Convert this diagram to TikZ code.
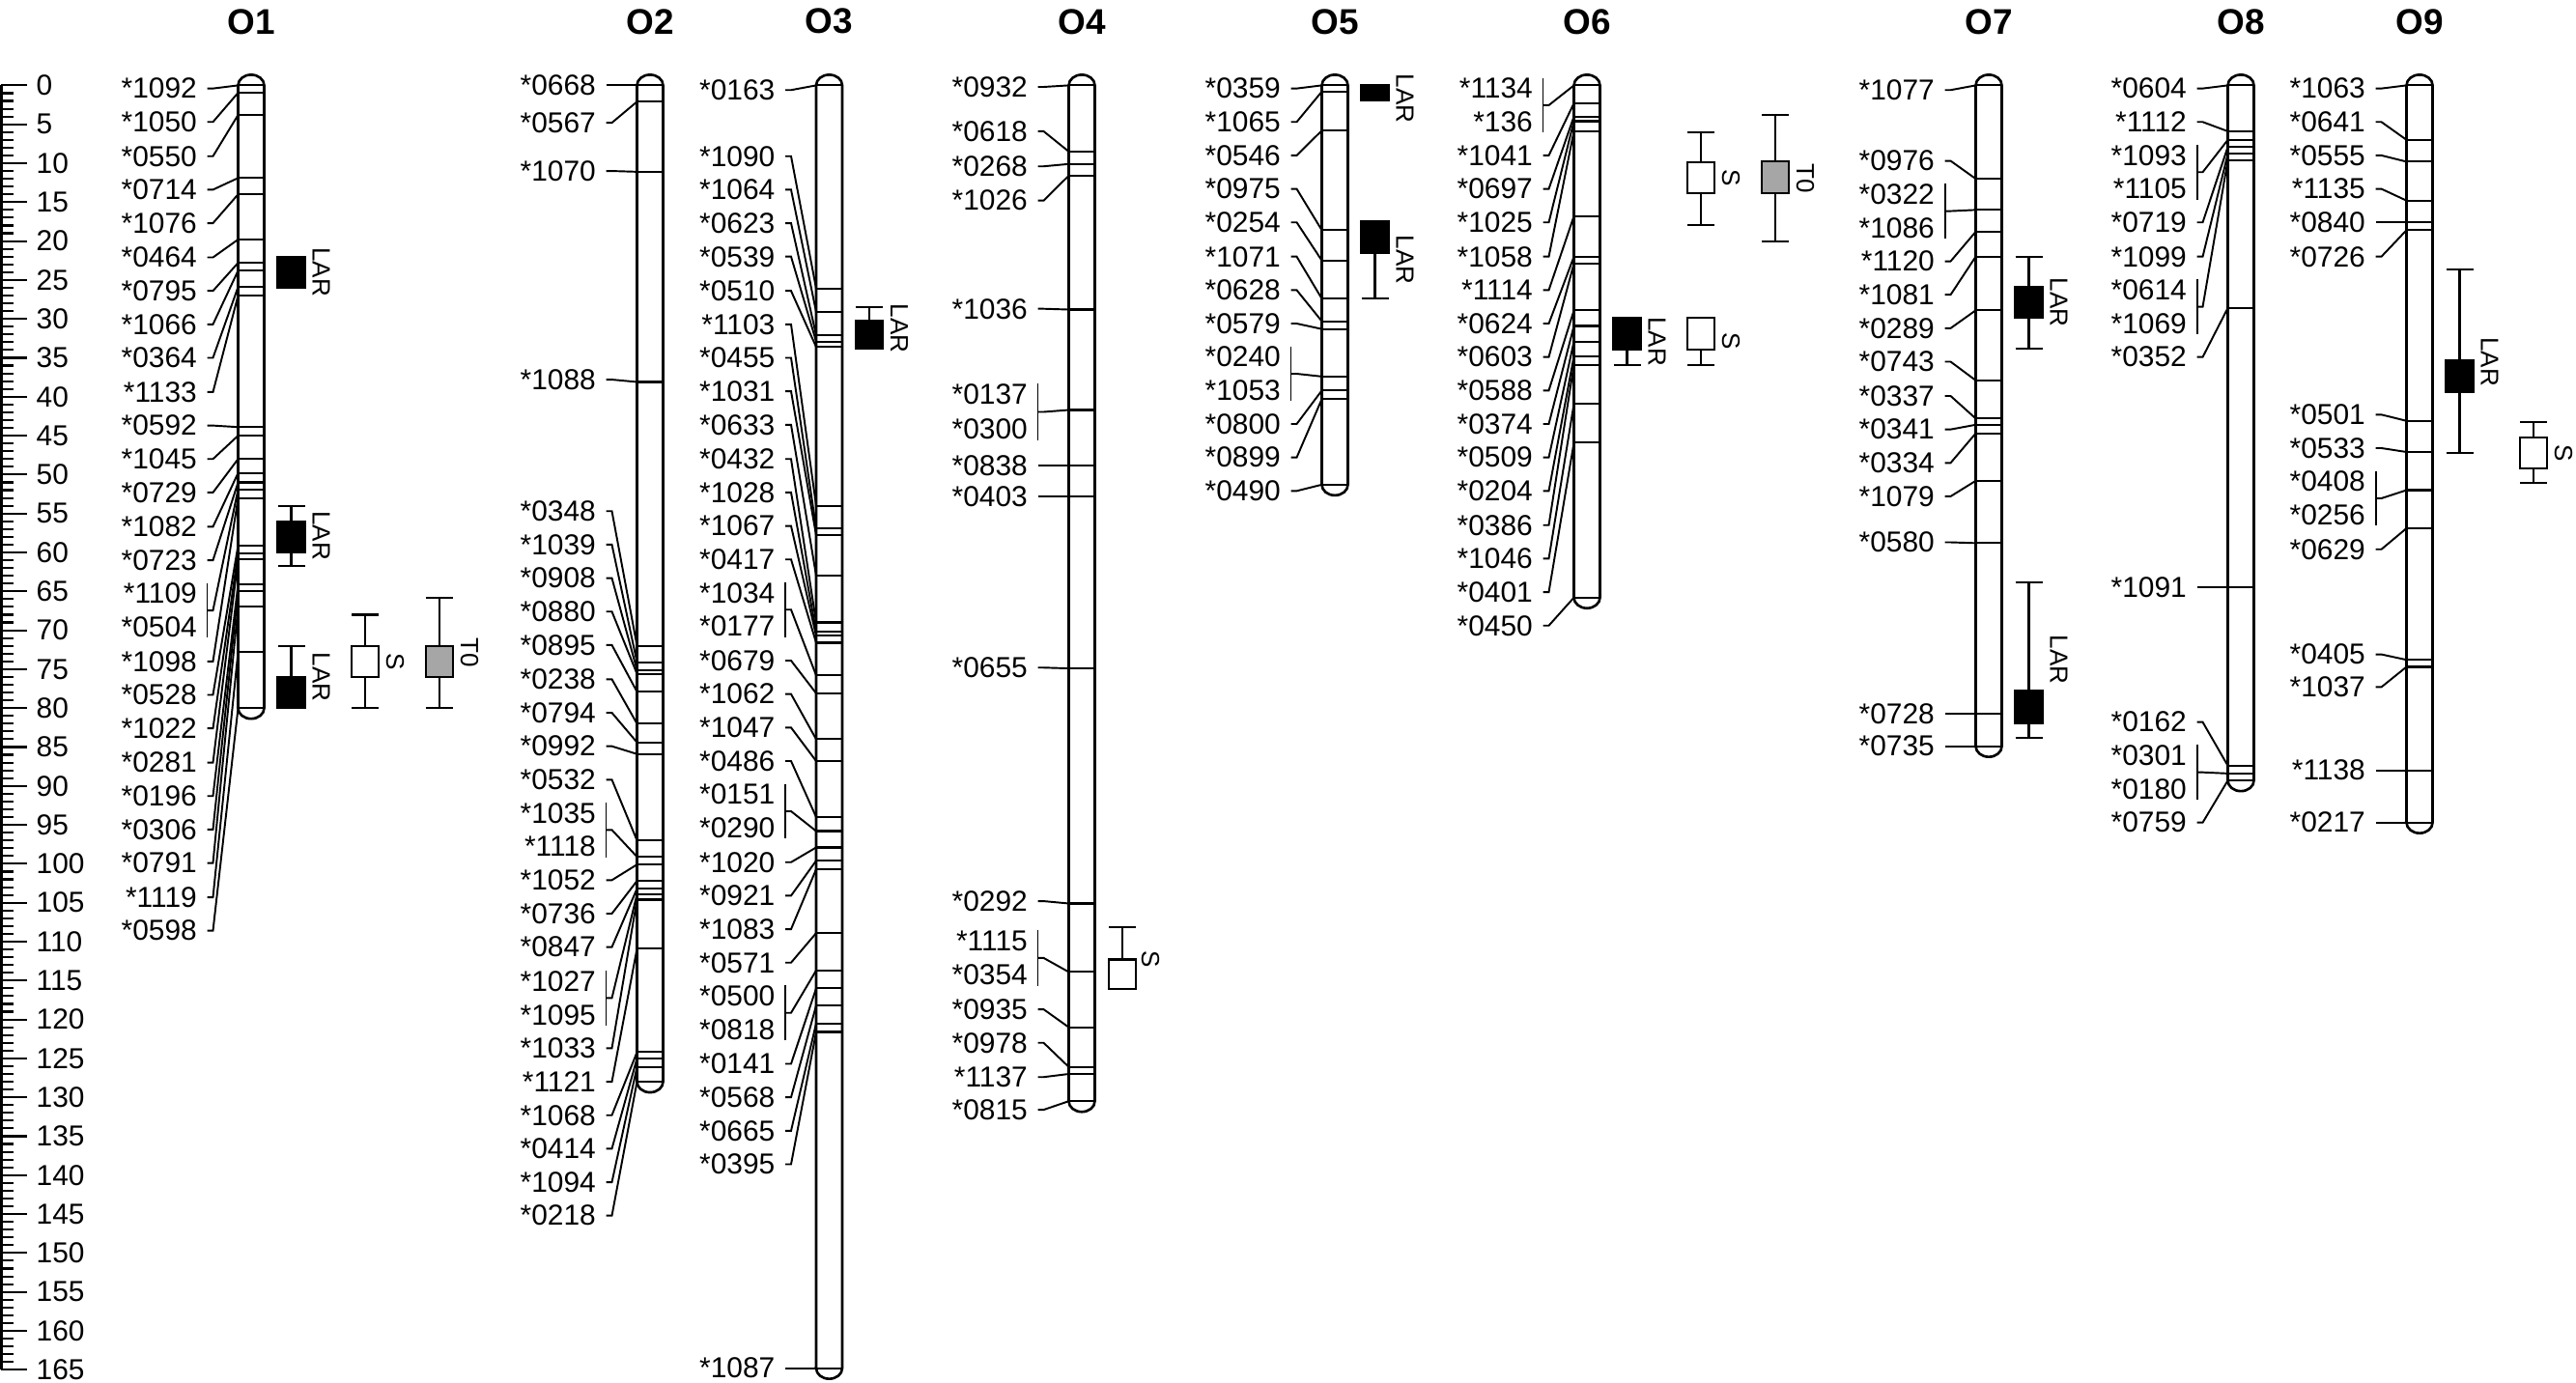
\documentclass[tikz,border=0pt]{standalone}
\usepackage{fontspec}
\setmainfont{Liberation Sans}
\usetikzlibrary{calc}

\begin{document}
\begin{tikzpicture}[x=0.01cm, y=-0.08055cm,
    chrom/.style={line width=0.75pt},
    locus/.style={line width=0.6pt},
    leader/.style={line width=0.55pt},
    whisk/.style={line width=0.6pt},
    lab/.style={font=\fontsize{8.5}{10}\selectfont, inner sep=0pt, anchor=east},
    rul/.style={font=\fontsize{8.5}{10}\selectfont, inner sep=0pt, anchor=west},
    title/.style={font=\fontsize{10.5}{12}\selectfont\bfseries},
    qtl/.style={font=\fontsize{7.4}{9}\selectfont, inner sep=0pt, rotate=-90},
    lar/.style={draw, line width=0.6pt, fill=black},
    sbox/.style={draw, line width=0.6pt, fill=white},
    tbox/.style={draw, line width=0.6pt, fill=black!35}]
  \useasboundingbox (0,-10.97) rectangle (2667,166.68);

  % ruler
  \draw[line width=0.6pt] (1.5,0) -- (1.5,165);
  \foreach \t in {0,...,165}
    \draw[line width=0.6pt] (1.5,\t) -- (14,\t);
  \foreach \t in {0,5,...,165}{
    \draw[line width=0.6pt] (1.5,\t) -- (28,\t);
    \node[rul] (r\t) at (37,\t) {\t};
  }

  % O1
  \begin{scope}[shift={(260,0)}]
    \node[title] (O1) at (0,-8.2) {O1};
    \draw[chrom] (-13.5,80) -- (-13.5,0) arc[start angle=180,end angle=0,x radius=0.135cm,y radius=0.11cm] -- (13.5,80) arc[start angle=0,end angle=-180,x radius=0.135cm,y radius=0.11cm] -- cycle;
    \foreach \n/\ly/\my in {1092/0.4/0, 1050/4.7/0.95, 0550/9.1/3.8, 0714/13.4/11.9, 1076/17.7/14.0,
        0464/22.1/19.8, 0795/26.4/22.8, 1066/30.7/23.8, 0364/35.0/25.9, 1133/39.4/27.0,
        0592/43.7/43.9, 1045/48.0/45.0, 0729/52.3/48.0, 1082/56.7/49.8, 0723/61.0/51.0,
        1098/74.0/53.0, 0528/78.3/59.1, 1022/82.6/60.1, 0281/87.0/60.9, 0196/91.3/64.1,
        0306/95.6/65.0, 0791/99.9/67.0, 1119/104.3/72.8, 0598/108.6/80}{
      \node[lab] (O1-\n) at (-55.5,\ly) {*\n};
      \coordinate (O1l-\n) at (-13.5,\my);
      \coordinate (O1r-\n) at (13.5,\my);
      \draw[locus] (O1l-\n) -- (O1r-\n);
      \draw[leader] (O1-\n.east) ++(10,0) -- ++(6,0) -- (O1l-\n);
    }
    \foreach \a/\b/\la/\lb/\my in {1109/0504/65.3/69.6/51.9}{
      \node[lab] (O1-\a) at (-55.5,\la) {*\a};
      \node[lab] (O1-\b) at (-55.5,\lb) {*\b};
      \coordinate (O1l-\a) at (-13.5,\my);
      \coordinate (O1r-\a) at (13.5,\my);
      \draw[locus] (O1l-\a) -- (O1r-\a);
      \draw[leader] ([xshift=0.1cm,yshift=0.11cm]O1-\a.east) -- ([xshift=0.1cm,yshift=-0.11cm]O1-\b.east);
      \draw[leader] ($(O1-\a.east)!0.5!(O1-\b.east)$) ++(10,0) -- ++(6,0) -- (O1l-\a);
    }
    % LAR
    \draw[lar] (27.5,22) rectangle (55.5,26);
    \node[qtl] (O1-q1) at (72.5,24) {LAR};
    \draw[whisk] (27.5,54) -- (55.5,54) (41.5,54) -- (41.5,61.7) (27.5,61.7) -- (55.5,61.7);
    \draw[lar] (27.5,56) rectangle (55.5,60);
    \node[qtl] (O1-q2) at (72.5,57.85) {LAR};
    \draw[whisk] (27.5,72) -- (55.5,72) (41.5,72) -- (41.5,76);
    \draw[lar] (27.5,76) rectangle (55.5,80);
    \node[qtl] (O1-q3) at (72.5,76) {LAR};
    % S
    \draw[whisk] (104,68) -- (132,68) (118,68) -- (118,80) (104,80) -- (132,80);
    \draw[sbox] (104,72) rectangle (132,76);
    \node[qtl] (O1-q4) at (149,74) {S};
    % T0
    \draw[whisk] (181,65.8) -- (209,65.8) (195,65.8) -- (195,80) (181,80) -- (209,80);
    \draw[tbox] (181,72) rectangle (209,76);
    \node[qtl] (O1-q5) at (226,72.9) {T0};
  \end{scope}

  % O2
  \begin{scope}[shift={(673,0)}]
    \node[title] (O2) at (0,-8.2) {O2};
    \draw[chrom] (-13.5,128) -- (-13.5,0) arc[start angle=180,end angle=0,x radius=0.135cm,y radius=0.11cm] -- (13.5,128) arc[start angle=0,end angle=-180,x radius=0.135cm,y radius=0.11cm] -- cycle;
    \foreach \n/\ly/\my in {0668/0/0, 0567/4.8/2.1, 1070/11.0/11.1, 1088/37.8/38.1,
        0348/54.7/72.0, 1039/59.0/74.1, 0908/63.3/75.1, 0880/67.6/75.6, 0895/71.9/77.9,
        0238/76.3/82.0, 0794/80.6/84.4, 0992/84.9/85.9, 0532/89.2/97.0, 1052/102.1/100.1,
        0736/106.4/102.2, 0847/110.7/103.2, 1033/123.7/104.6, 1121/128.0/110.9,
        1068/132.3/124.2, 0414/136.6/125.0, 1094/140.9/126.1, 0218/145.2/128}{
      \node[lab] (O2-\n) at (-55.5,\ly) {*\n};
      \coordinate (O2l-\n) at (-13.5,\my);
      \coordinate (O2r-\n) at (13.5,\my);
      \draw[locus] (O2l-\n) -- (O2r-\n);
      \draw[leader] (O2-\n.east) ++(10,0) -- ++(6,0) -- (O2l-\n);
    }
    \foreach \a/\b/\la/\lb/\my in {1035/1118/93.5/97.8/99.1, 1027/1095/115.1/119.4/103.9}{
      \node[lab] (O2-\a) at (-55.5,\la) {*\a};
      \node[lab] (O2-\b) at (-55.5,\lb) {*\b};
      \coordinate (O2l-\a) at (-13.5,\my);
      \coordinate (O2r-\a) at (13.5,\my);
      \draw[locus] (O2l-\a) -- (O2r-\a);
      \draw[leader] ([xshift=0.1cm,yshift=0.11cm]O2-\a.east) -- ([xshift=0.1cm,yshift=-0.11cm]O2-\b.east);
      \draw[leader] ($(O2-\a.east)!0.5!(O2-\b.east)$) ++(10,0) -- ++(6,0) -- (O2l-\a);
    }
  \end{scope}

  % O3
  \begin{scope}[shift={(858.5,0)}]
    \node[title] (O3) at (0,-8.2) {O3};
    \draw[chrom] (-13.5,164.8) -- (-13.5,0) arc[start angle=180,end angle=0,x radius=0.135cm,y radius=0.11cm] -- (13.5,164.8) arc[start angle=0,end angle=-180,x radius=0.135cm,y radius=0.11cm] -- cycle;
    \foreach \n/\ly/\my in {0163/0.6/0, 1090/9.1/26.1, 1064/13.4/29.1, 0623/17.7/32.1, 0539/22.0/32.9,
        0510/26.4/33.6, 1103/30.7/54.0, 0455/35.0/56.9, 1031/39.3/57.8, 0633/43.6/63.0,
        0432/48.0/69.0, 1028/52.3/70.2, 1067/56.6/70.7, 0417/60.9/71.6, 0679/73.9/78.1,
        1062/78.2/84.0, 1047/82.5/86.8, 0486/86.8/94.0, 1020/99.8/97.9, 0921/104.1/99.6,
        1083/108.4/100.7, 0571/112.7/108.9, 0141/125.7/116.0, 0568/130.0/118.2,
        0665/134.3/120.5, 0395/138.6/121.6, 1087/164.8/164.8}{
      \node[lab] (O3-\n) at (-55.5,\ly) {*\n};
      \coordinate (O3l-\n) at (-13.5,\my);
      \coordinate (O3r-\n) at (13.5,\my);
      \draw[locus] (O3l-\n) -- (O3r-\n);
      \draw[leader] (O3-\n.east) ++(10,0) -- ++(6,0) -- (O3l-\n);
    }
    \foreach \a/\b/\la/\lb/\my in {1034/0177/65.2/69.5/75.8, 0151/0290/91.1/95.4/95.8, 0500/0818/117.0/121.3/113.7}{
      \node[lab] (O3-\a) at (-55.5,\la) {*\a};
      \node[lab] (O3-\b) at (-55.5,\lb) {*\b};
      \coordinate (O3l-\a) at (-13.5,\my);
      \coordinate (O3r-\a) at (13.5,\my);
      \draw[locus] (O3l-\a) -- (O3r-\a);
      \draw[leader] ([xshift=0.1cm,yshift=0.11cm]O3-\a.east) -- ([xshift=0.1cm,yshift=-0.11cm]O3-\b.east);
      \draw[leader] ($(O3-\a.east)!0.5!(O3-\b.east)$) ++(10,0) -- ++(6,0) -- (O3l-\a);
    }
    % LAR
    \draw[whisk] (27.5,28.5) -- (55.5,28.5) (41.5,28.5) -- (41.5,30.2);
    \draw[lar] (27.5,30.2) rectangle (55.5,33.8);
    \node[qtl] (O3-q1) at (72.5,31.2) {LAR};
  \end{scope}

  % O4
  \begin{scope}[shift={(1120,0)}]
    \node[title] (O4) at (0,-8.2) {O4};
    \draw[chrom] (-13.5,130.5) -- (-13.5,0) arc[start angle=180,end angle=0,x radius=0.135cm,y radius=0.11cm] -- (13.5,130.5) arc[start angle=0,end angle=-180,x radius=0.135cm,y radius=0.11cm] -- cycle;
    \foreach \n/\ly/\my in {0932/0.2/0, 0618/5.9/8.5, 0268/10.4/10.1, 1026/14.8/11.6, 1036/28.7/28.8,
        0838/48.8/48.8, 0403/52.8/52.8, 0655/74.8/74.9, 0292/104.8/105.1, 0935/118.7/121.0,
        0978/123.0/126.1, 1137/127.4/127.0, 0815/131.6/130.5}{
      \node[lab] (O4-\n) at (-55.5,\ly) {*\n};
      \coordinate (O4l-\n) at (-13.5,\my);
      \coordinate (O4r-\n) at (13.5,\my);
      \draw[locus] (O4l-\n) -- (O4r-\n);
      \draw[leader] (O4-\n.east) ++(10,0) -- ++(6,0) -- (O4l-\n);
    }
    \foreach \a/\b/\la/\lb/\my in {0137/0300/39.7/44.2/41.7, 1115/0354/109.9/114.3/113.9}{
      \node[lab] (O4-\a) at (-55.5,\la) {*\a};
      \node[lab] (O4-\b) at (-55.5,\lb) {*\b};
      \coordinate (O4l-\a) at (-13.5,\my);
      \coordinate (O4r-\a) at (13.5,\my);
      \draw[locus] (O4l-\a) -- (O4r-\a);
      \draw[leader] ([xshift=0.1cm,yshift=0.11cm]O4-\a.east) -- ([xshift=0.1cm,yshift=-0.11cm]O4-\b.east);
      \draw[leader] ($(O4-\a.east)!0.5!(O4-\b.east)$) ++(10,0) -- ++(6,0) -- (O4l-\a);
    }
    % S
    \draw[whisk] (28,108.1) -- (56,108.1) (42,108.1) -- (42,112.3);
    \draw[sbox] (28,112.3) rectangle (56,116.1);
    \node[qtl] (O4-q1) at (71,112.2) {S};
  \end{scope}

  % O5
  \begin{scope}[shift={(1382,0)}]
    \node[title] (O5) at (0,-8.2) {O5};
    \draw[chrom] (-13.5,51.3) -- (-13.5,0) arc[start angle=180,end angle=0,x radius=0.135cm,y radius=0.11cm] -- (13.5,51.3) arc[start angle=0,end angle=-180,x radius=0.135cm,y radius=0.11cm] -- cycle;
    \foreach \n/\ly/\my in {0359/0.4/0, 1065/4.7/0.8, 0546/9.0/5.8, 0975/13.3/18.6, 0254/17.6/22.5,
        1071/22.0/27.4, 0628/26.3/30.3, 0579/30.6/31.3, 0800/43.5/39.2, 0899/47.8/40.3,
        0490/52.1/51.3}{
      \node[lab] (O5-\n) at (-55.5,\ly) {*\n};
      \coordinate (O5l-\n) at (-13.5,\my);
      \coordinate (O5r-\n) at (13.5,\my);
      \draw[locus] (O5l-\n) -- (O5r-\n);
      \draw[leader] (O5-\n.east) ++(10,0) -- ++(6,0) -- (O5l-\n);
    }
    \foreach \a/\b/\la/\lb/\my in {0240/1053/34.9/39.2/37.4}{
      \node[lab] (O5-\a) at (-55.5,\la) {*\a};
      \node[lab] (O5-\b) at (-55.5,\lb) {*\b};
      \coordinate (O5l-\a) at (-13.5,\my);
      \coordinate (O5r-\a) at (13.5,\my);
      \draw[locus] (O5l-\a) -- (O5r-\a);
      \draw[leader] ([xshift=0.1cm,yshift=0.11cm]O5-\a.east) -- ([xshift=0.1cm,yshift=-0.11cm]O5-\b.east);
      \draw[leader] ($(O5-\a.east)!0.5!(O5-\b.east)$) ++(10,0) -- ++(6,0) -- (O5l-\a);
    }
    % LAR
    \draw[lar] (27.5,0) rectangle (55.5,1.9);
    \node[qtl] (O5-q1) at (72.5,1.7) {LAR};
    \draw[whisk] (41.5,21.5) -- (41.5,27.4) (27.5,27.4) -- (55.5,27.4);
    \draw[lar] (27.5,17.5) rectangle (55.5,21.5);
    \node[qtl] (O5-q2) at (72.5,22.4) {LAR};
  \end{scope}

  % O6
  \begin{scope}[shift={(1643,0)}]
    \node[title] (O6) at (0,-8.2) {O6};
    \draw[chrom] (-13.5,65.8) -- (-13.5,0) arc[start angle=180,end angle=0,x radius=0.135cm,y radius=0.11cm] -- (13.5,65.8) arc[start angle=0,end angle=-180,x radius=0.135cm,y radius=0.11cm] -- cycle;
    \foreach \n/\ly/\my in {1041/9.0/2.3, 0697/13.3/4.0, 1025/17.6/4.6, 1058/22.0/5.9, 1114/26.3/16.8,
        0624/30.6/22.0, 0603/34.9/22.9, 0588/39.2/28.9, 0374/43.5/30.9, 0509/47.8/32.9,
        0204/52.1/34.8, 0386/56.5/35.9, 1046/60.8/40.9, 0401/65.1/45.9, 0450/69.4/65.8}{
      \node[lab] (O6-\n) at (-55.5,\ly) {*\n};
      \coordinate (O6l-\n) at (-13.5,\my);
      \coordinate (O6r-\n) at (13.5,\my);
      \draw[locus] (O6l-\n) -- (O6r-\n);
      \draw[leader] (O6-\n.east) ++(10,0) -- ++(6,0) -- (O6l-\n);
    }
    \foreach \a/\b/\la/\lb/\my in {1134/136/0.4/4.7/0}{
      \node[lab] (O6-\a) at (-55.5,\la) {*\a};
      \node[lab] (O6-\b) at (-55.5,\lb) {*\b};
      \coordinate (O6l-\a) at (-13.5,\my);
      \coordinate (O6r-\a) at (13.5,\my);
      \draw[locus] (O6l-\a) -- (O6r-\a);
      \draw[leader] ([xshift=0.1cm,yshift=0.11cm]O6-\a.east) -- ([xshift=0.1cm,yshift=-0.11cm]O6-\b.east);
      \draw[leader] ($(O6-\a.east)!0.5!(O6-\b.east)$) ++(10,0) -- ++(6,0) -- (O6l-\a);
    }
    % LAR
    \draw[whisk] (41.5,33.9) -- (41.5,35.9) (27.5,35.9) -- (55.5,35.9);
    \draw[lar] (27.5,29.9) rectangle (55.5,33.9);
    \node[qtl] (O6-q1) at (72.5,32.9) {LAR};
    % S
    \draw[whisk] (104,6.0) -- (132,6.0) (118,6.0) -- (118,17.9) (104,17.9) -- (132,17.9);
    \draw[sbox] (104,9.9) rectangle (132,13.9);
    \node[qtl] (O6-q2) at (149,11.9) {S};
    \draw[whisk] (118,33.9) -- (118,35.9) (104,35.9) -- (132,35.9);
    \draw[sbox] (104,29.9) rectangle (132,33.9);
    \node[qtl] (O6-q3) at (149,32.9) {S};
    % T0
    \draw[whisk] (181,3.8) -- (209,3.8) (195,3.8) -- (195,20.1) (181,20.1) -- (209,20.1);
    \draw[tbox] (181,9.7) rectangle (209,13.9);
    \node[qtl] (O6-q4) at (226,11.9) {T0};
  \end{scope}

  % O7
  \begin{scope}[shift={(2059,0)}]
    \node[title] (O7) at (0,-8.2) {O7};
    \draw[chrom] (-13.5,84.9) -- (-13.5,0) arc[start angle=180,end angle=0,x radius=0.135cm,y radius=0.11cm] -- (13.5,84.9) arc[start angle=0,end angle=-180,x radius=0.135cm,y radius=0.11cm] -- cycle;
    \foreach \n/\ly/\my in {1077/0.6/0, 0976/9.7/12.0, 1120/22.6/18.8, 1081/26.9/22.0, 0289/31.2/28.9,
        0743/35.5/37.9, 0337/39.9/42.8, 0341/44.2/43.6, 0334/48.5/44.7, 1079/52.8/50.8,
        0580/58.7/58.8, 0728/80.7/80.7, 0735/84.9/84.9}{
      \node[lab] (O7-\n) at (-55.5,\ly) {*\n};
      \coordinate (O7l-\n) at (-13.5,\my);
      \coordinate (O7r-\n) at (13.5,\my);
      \draw[locus] (O7l-\n) -- (O7r-\n);
      \draw[leader] (O7-\n.east) ++(10,0) -- ++(6,0) -- (O7l-\n);
    }
    \foreach \a/\b/\la/\lb/\my in {0322/1086/14.0/18.3/16.0}{
      \node[lab] (O7-\a) at (-55.5,\la) {*\a};
      \node[lab] (O7-\b) at (-55.5,\lb) {*\b};
      \coordinate (O7l-\a) at (-13.5,\my);
      \coordinate (O7r-\a) at (13.5,\my);
      \draw[locus] (O7l-\a) -- (O7r-\a);
      \draw[leader] ([xshift=0.1cm,yshift=0.11cm]O7-\a.east) -- ([xshift=0.1cm,yshift=-0.11cm]O7-\b.east);
      \draw[leader] ($(O7-\a.east)!0.5!(O7-\b.east)$) ++(10,0) -- ++(6,0) -- (O7l-\a);
    }
    % LAR
    \draw[whisk] (27.5,22.0) -- (55.5,22.0) (41.5,22.0) -- (41.5,33.8) (27.5,33.8) -- (55.5,33.8);
    \draw[lar] (27.5,25.9) rectangle (55.5,29.9);
    \node[qtl] (O7-q1) at (72.5,27.9) {LAR};
    \draw[whisk] (27.5,63.9) -- (55.5,63.9) (41.5,63.9) -- (41.5,83.8) (27.5,83.8) -- (55.5,83.8);
    \draw[lar] (27.5,77.8) rectangle (55.5,81.9);
    \node[qtl] (O7-q2) at (72.5,73.8) {LAR};
  \end{scope}

  % O8
  \begin{scope}[shift={(2320,0)}]
    \node[title] (O8) at (0,-8.2) {O8};
    \draw[chrom] (-13.5,89.3) -- (-13.5,0) arc[start angle=180,end angle=0,x radius=0.135cm,y radius=0.11cm] -- (13.5,89.3) arc[start angle=0,end angle=-180,x radius=0.135cm,y radius=0.11cm] -- cycle;
    \foreach \n/\ly/\my in {0604/0.4/0, 1112/4.7/5.9, 0719/17.6/7.9, 1099/22.0/8.8, 0352/34.9/28.6,
        1091/64.5/64.5, 0162/81.8/87.4, 0759/94.7/89.3}{
      \node[lab] (O8-\n) at (-55.5,\ly) {*\n};
      \coordinate (O8l-\n) at (-13.5,\my);
      \coordinate (O8r-\n) at (13.5,\my);
      \draw[locus] (O8l-\n) -- (O8r-\n);
      \draw[leader] (O8-\n.east) ++(10,0) -- ++(6,0) -- (O8l-\n);
    }
    \foreach \a/\b/\la/\lb/\my in {1093/1105/9.0/13.3/7.0, 0614/1069/26.3/30.6/9.6, 0301/0180/86.1/90.4/88.4}{
      \node[lab] (O8-\a) at (-55.5,\la) {*\a};
      \node[lab] (O8-\b) at (-55.5,\lb) {*\b};
      \coordinate (O8l-\a) at (-13.5,\my);
      \coordinate (O8r-\a) at (13.5,\my);
      \draw[locus] (O8l-\a) -- (O8r-\a);
      \draw[leader] ([xshift=0.1cm,yshift=0.11cm]O8-\a.east) -- ([xshift=0.1cm,yshift=-0.11cm]O8-\b.east);
      \draw[leader] ($(O8-\a.east)!0.5!(O8-\b.east)$) ++(10,0) -- ++(6,0) -- (O8l-\a);
    }
  \end{scope}

  % O9
  \begin{scope}[shift={(2505,0)}]
    \node[title] (O9) at (0,-8.2) {O9};
    \draw[chrom] (-13.5,94.7) -- (-13.5,0) arc[start angle=180,end angle=0,x radius=0.135cm,y radius=0.11cm] -- (13.5,94.7) arc[start angle=0,end angle=-180,x radius=0.135cm,y radius=0.11cm] -- cycle;
    \foreach \n/\ly/\my in {1063/0.4/0, 0641/4.7/7.0, 0555/9.0/9.8, 1135/13.3/14.8, 0840/17.6/17.6,
        0726/22.0/18.6, 0501/42.3/43.1, 0533/46.6/47.1, 0629/59.6/56.9, 0405/73.1/73.8,
        1037/77.3/74.7, 1138/88.0/88.0, 0217/94.7/94.7}{
      \node[lab] (O9-\n) at (-55.5,\ly) {*\n};
      \coordinate (O9l-\n) at (-13.5,\my);
      \coordinate (O9r-\n) at (13.5,\my);
      \draw[locus] (O9l-\n) -- (O9r-\n);
      \draw[leader] (O9-\n.east) ++(10,0) -- ++(6,0) -- (O9l-\n);
    }
    \foreach \a/\b/\la/\lb/\my in {0408/0256/50.9/55.2/52.0}{
      \node[lab] (O9-\a) at (-55.5,\la) {*\a};
      \node[lab] (O9-\b) at (-55.5,\lb) {*\b};
      \coordinate (O9l-\a) at (-13.5,\my);
      \coordinate (O9r-\a) at (13.5,\my);
      \draw[locus] (O9l-\a) -- (O9r-\a);
      \draw[leader] ([xshift=0.1cm,yshift=0.11cm]O9-\a.east) -- ([xshift=0.1cm,yshift=-0.11cm]O9-\b.east);
      \draw[leader] ($(O9-\a.east)!0.5!(O9-\b.east)$) ++(10,0) -- ++(6,0) -- (O9l-\a);
    }
    % LAR
    \draw[whisk] (27.5,23.7) -- (55.5,23.7) (41.5,23.7) -- (41.5,47.2) (27.5,47.2) -- (55.5,47.2);
    \draw[lar] (27.5,35.3) rectangle (55.5,39.4);
    \node[qtl] (O9-q1) at (72.5,35.5) {LAR};
    % S
    \draw[whisk] (104,43.3) -- (132,43.3) (118,43.3) -- (118,51.1) (104,51.1) -- (132,51.1);
    \draw[sbox] (104,45.2) rectangle (132,49.2);
    \node[qtl] (O9-q2) at (149,47.2) {S};
  \end{scope}
\end{tikzpicture}
\end{document}
